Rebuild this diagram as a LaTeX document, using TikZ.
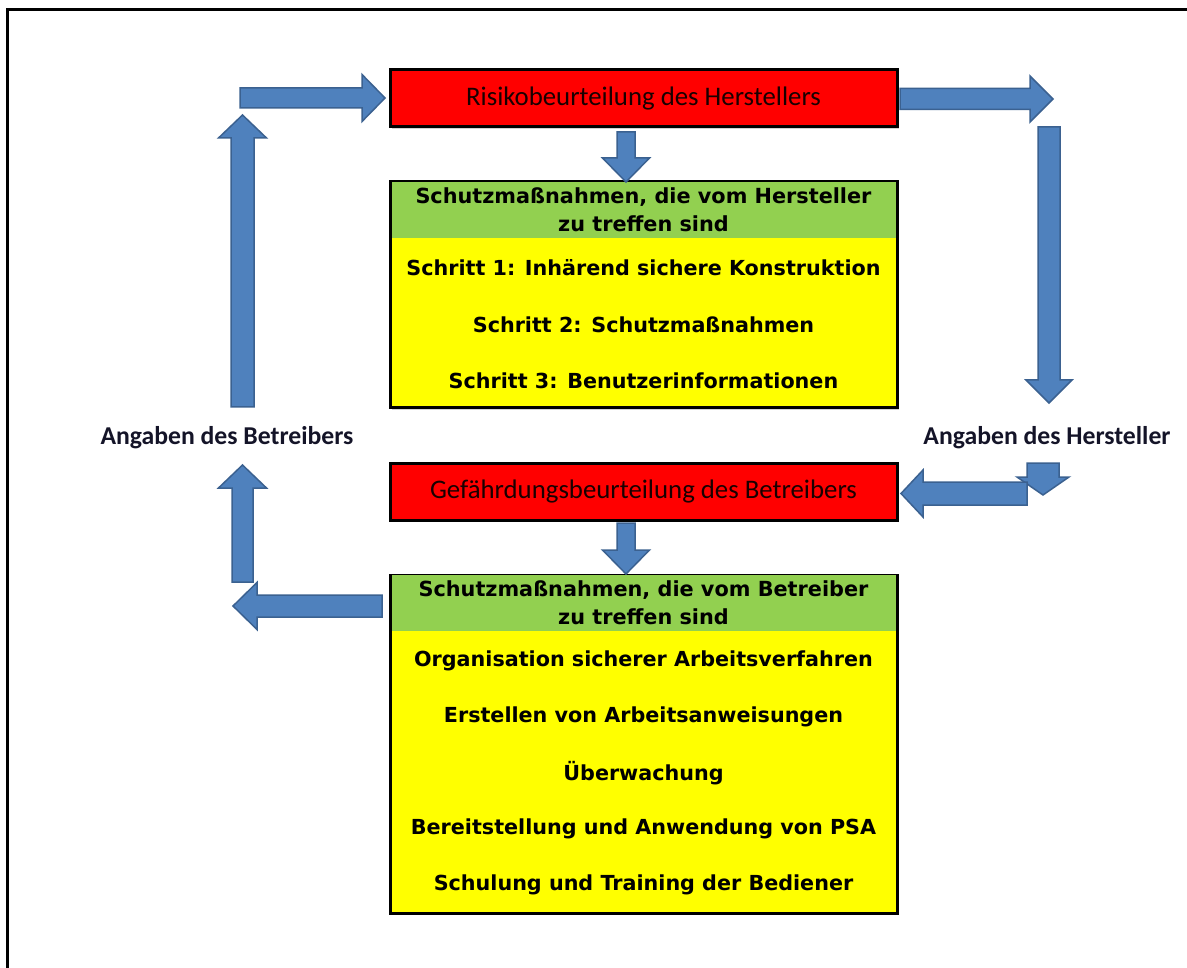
\documentclass[tikz,border=0pt]{standalone}
\usepackage{fontspec}
\setmainfont{Carlito}
\newfontfamily\boxfont{DejaVu Sans}
\usetikzlibrary{calc,shadows}
\definecolor{arrfill}{HTML}{4F81BD}
\definecolor{arrline}{HTML}{3B6190}
\definecolor{hgreen}{HTML}{92D050}
\definecolor{byellow}{HTML}{FFFF00}
\definecolor{bred}{HTML}{FF0000}
\definecolor{labtext}{HTML}{141428}
% #1 start, #2 tip, #3 half shaft width, #4 half head width, #5 head length
\newcommand{\blockarrow}[5]{%
  \coordinate (bah) at ($(#2)!#5!(#1)$);
  \filldraw[barrow] ($(#1)!#3!90:(#2)$) -- ($(bah)!#3!90:(#2)$) -- ($(bah)!#4!90:(#2)$) -- (#2)
    -- ($(bah)!#4!-90:(#2)$) -- ($(bah)!#3!-90:(#2)$) -- ($(#1)!#3!-90:(#2)$) -- cycle;}
\tikzset{
  boxshadow/.style={drop shadow={shadow xshift=1.5pt,shadow yshift=-2pt,opacity=0.35}},
  redbox/.style={draw=black, line width=3pt, fill=bred, boxshadow, minimum width=507pt,
    minimum height=57pt, inner sep=0pt, font=\fontsize{26.8}{30}\selectfont, text=black!90!red},
  outerbox/.style={draw=black, line width=3pt, fill=byellow, boxshadow, minimum width=507pt, inner sep=0pt},
  headbox/.style={fill=hgreen, minimum width=504pt, minimum height=56pt, inner sep=0pt, align=center,
    font=\boxfont\bfseries\fontsize{20.8}{28}\selectfont},
  itemtext/.style={font=\boxfont\bfseries\fontsize{20.7}{25}\selectfont, inner sep=0pt},
  label/.style={font=\bfseries\fontsize{25.7}{30}\selectfont, text=labtext, inner sep=0pt},
  frameline/.style={draw=black, line width=3pt},
  barrow/.style={fill=arrfill, draw=arrline, line width=1.5pt, line join=miter}
}
\begin{document}
\begin{tikzpicture}[x=1pt,y=-1pt]
\useasboundingbox (0,0) rectangle (1187,968);
\fill[white] (0,0) rectangle (1187,968);
% frame (top and left edges)
\coordinate (ftl) at (7,9.5);
\coordinate (ftr) at (1187,9.5);
\coordinate (fbl) at (7,968);
\draw[frameline] (ftr) -- (ftl) -- (fbl);

% boxes
\node[redbox] (risk) at (643.5,98.5) {Risikobeurteilung des Herstellers};
\node[outerbox, minimum height=226pt] (m1) at (643.5,295) {};
\node[headbox, anchor=north] (h1) at ($(m1.north)+(0,1.5)$) {Schutzmaßnahmen, die vom Hersteller\\zu treffen sind};
\node[itemtext] (s1) at (643.5,268) {Schritt 1: Inhärend sichere Konstruktion};
\node[itemtext] (s2) at (643.5,325) {Schritt 2: Schutzmaßnahmen};
\node[itemtext] (s3) at (643.5,381) {Schritt 3: Benutzerinformationen};

\node[redbox] (gef) at (643.5,491.5) {Gefährdungsbeurteilung des Betreibers};
\node[outerbox, minimum height=338pt] (m2) at (643.5,744) {};
\node[headbox, anchor=north] (h2) at ($(m2.north)+(0,1.5)$) {Schutzmaßnahmen, die vom Betreiber\\zu treffen sind};
\node[itemtext] (t1) at (643.5,661) {Organisation sicherer Arbeitsverfahren};
\node[itemtext] (t2) at (643.5,717) {Erstellen von Arbeitsanweisungen};
\node[itemtext] (t3) at (643.5,773) {Überwachung};
\node[itemtext] (t4) at (643.5,829) {Bereitstellung und Anwendung von PSA};
\node[itemtext] (t5) at (643.5,885) {Schulung und Training der Bediener};

% labels
\node[label] (lb) at (227,438) {Angaben des Betreibers};
\node[label] (lh) at (1047,438) {Angaben des Hersteller};

% arrow end points
\coordinate (a1s) at (240,98);   \coordinate (a1e) at (385,98);
\coordinate (a2s) at (900,99);   \coordinate (a2e) at (1053,99);
\coordinate (a3s) at (1049,127); \coordinate (a3e) at (1049,403);
\coordinate (a4s) at (1043,463); \coordinate (a4e) at (1043,495);
\coordinate (a5s) at (1027,493.5); \coordinate (a5e) at (901,493.5);
\coordinate (a6s) at (626,132);  \coordinate (a6e) at (626,182);
\coordinate (a7s) at (626,523);  \coordinate (a7e) at (626,574);
\coordinate (a8s) at (382,606);  \coordinate (a8e) at (233,606);
\coordinate (a9s) at (242.5,582); \coordinate (a9e) at (242.5,465);
\coordinate (a10s) at (242.5,407); \coordinate (a10e) at (242.5,115);

\blockarrow{a1s}{a1e}{10pt}{23.5pt}{23pt}
\blockarrow{a2s}{a2e}{10.5pt}{23pt}{23pt}
\blockarrow{a3s}{a3e}{11pt}{23pt}{23pt}
\blockarrow{a4s}{a4e}{16pt}{26pt}{18pt}
\blockarrow{a5s}{a5e}{11.5pt}{23.5pt}{22pt}
\blockarrow{a6s}{a6e}{9pt}{23.5pt}{24pt}
\blockarrow{a7s}{a7e}{9pt}{23.5pt}{24pt}
\blockarrow{a8s}{a8e}{11pt}{23.5pt}{24pt}
\blockarrow{a9s}{a9e}{10.5pt}{24pt}{23pt}
\blockarrow{a10s}{a10e}{11.5pt}{24pt}{23pt}
\end{tikzpicture}
\end{document}
